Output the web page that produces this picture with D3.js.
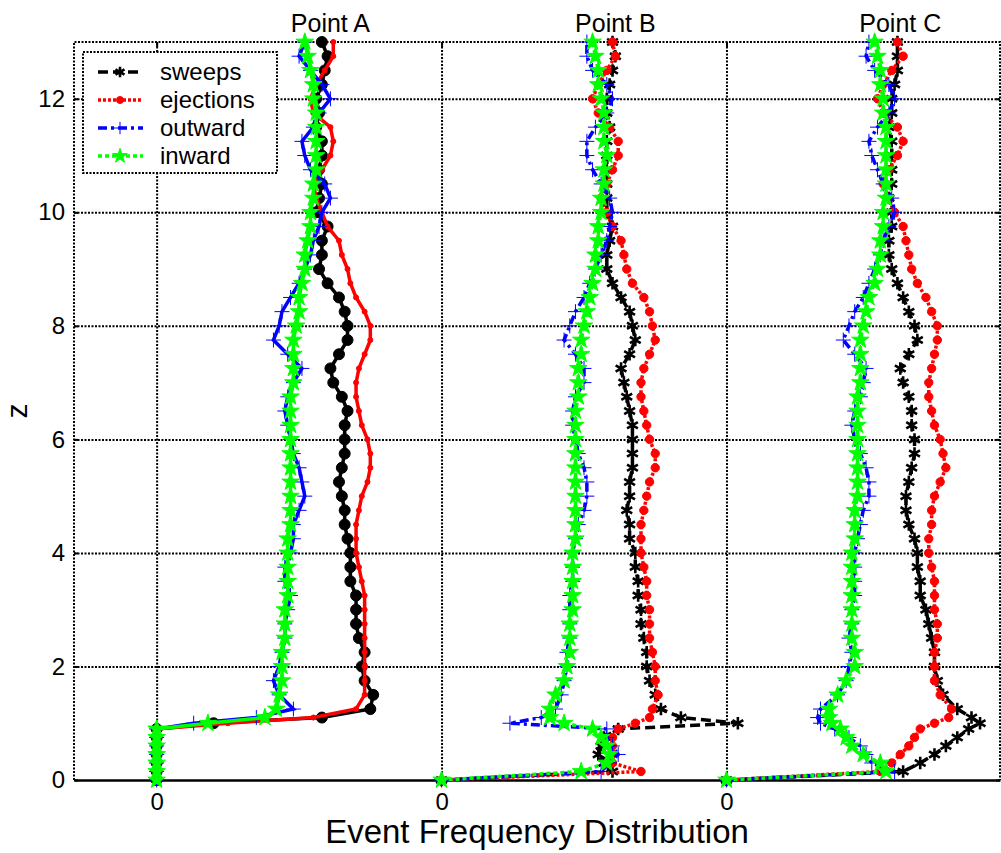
<!DOCTYPE html>
<html>
<head>
<meta charset="utf-8">
<script src="https://cdn.jsdelivr.net/npm/d3@7"></script>
<style>
  body { margin: 0; background: #fff; }
  text { font-family: "Liberation Sans", Arial, sans-serif; fill: #000; }
</style>
</head>
<body>
<script>
// z levels shared by every profile
var zLevels = [0, 0.15, 0.3, 0.45, 0.6, 0.75, 0.9, 1.0, 1.1,
  1.25, 1.5, 1.75, 2, 2.25, 2.5, 2.75, 3, 3.25, 3.5, 3.75, 4, 4.25, 4.5, 4.75, 5,
  5.25, 5.5, 5.75, 6, 6.25, 6.5, 6.75, 7, 7.25, 7.5, 7.75, 8, 8.25, 8.5, 8.75, 9,
  9.25, 9.5, 9.75, 10, 10.25, 10.5, 10.75, 11, 11.25, 11.5, 11.75, 12, 12.25, 12.5, 12.75, 13]

var panelNames = ['Point A', 'Point B', 'Point C']
var panelOffsets = [0, 100, 200]
var seriesNames = ['sweeps', 'ejections', 'outward', 'inward']
var yTicks = [0, 2, 4, 6, 8, 10, 12]

// Point A
var sweepsA = [0,0,0,0,0,0,0,20,58,
  75,76,73,72,73,71,70,70,70,68,68,68,67,66,66,65,64,65,66,66,66,67,65,62,61,64,67,67,66,64,60,57,58,58,60,56,57,58,57,58,58,56,57,56,58,59,60,58]
var ejectionsA = [0,0,0,0,0,0,0,25,55,
  70,73,73,73,73,73,73,73,73,72,71,70,70,70,71,72,74,75,75,74,72,71,70,70,71,73,75,75,73,70,68,67,65,64,60,58,56,55,58,61,62,61,55,54,56,59,62,62]
var outwardA = [0,0,0,0,0,0,0,13,35,
  48,43,41,43,44,45,45,46,47,45,45,47,48,48,50,52,51,50,48,47,46,45,46,48,51,46,41,43,44,47,50,52,54,55,57,58,61,59,54,52,51,55,57,61,58,54,50,52]
var inwardA = [0,0,0,0,0,0,0,18,38,
  42,43,44,44,44,45,45,45,46,46,46,46,46,47,47,47,47,47,47,47,47,47,47,48,48,48,48,49,50,50,51,52,52,53,54,54,55,55,56,56,56,56,56,55,55,54,53,52]

// Point B
var sweepsB = [0,60,57,55,56,57,62,104,84,
  77,75,73,72,72,71,70,70,69,69,68,68,66,66,65,66,66,67,67,67,67,66,65,64,63,66,68,67,66,63,60,58,58,59,60,58,58,58,58,58,58,59,58,58,59,60,61,60]
var ejectionsB = [0,70,60,60,60,60,62,68,73,
  74,76,75,75,74,73,73,73,72,72,71,70,70,70,71,72,73,75,75,73,72,71,70,70,71,73,75,74,73,71,67,65,64,63,60,58,56,58,60,62,62,59,55,53,55,58,61,60]
var outwardB = [0,56,59,62,60,58,58,24,35,
  40,42,43,44,44,45,45,45,45,46,46,46,47,48,50,51,51,50,48,47,46,46,47,50,50,47,43,45,47,50,52,54,56,58,59,60,59,56,53,51,51,54,58,60,58,53,51,51]
var inwardB = [0,49,58,59,58,56,53,43,38,
  38,40,43,44,45,45,45,46,46,46,46,46,47,47,47,47,47,47,47,47,47,47,48,48,48,49,49,50,51,52,53,54,54,55,55,56,56,57,57,58,57,57,57,56,55,55,54,53]

// Point C
var sweepsC = [0,62,68,73,77,81,85,89,86,
  81,76,74,73,73,72,71,70,68,68,67,67,66,64,63,63,64,65,66,66,65,65,64,62,61,64,67,66,64,62,60,58,57,57,58,58,57,58,58,58,58,57,58,58,59,60,60,60]
var ejectionsC = [0,54,58,61,64,66,68,73,78,
  79,75,73,73,73,74,74,73,73,73,72,71,71,72,72,73,75,77,76,75,73,72,71,71,72,73,74,74,72,70,67,65,64,63,62,59,57,55,57,60,62,60,55,53,55,58,62,60]
var outwardC = [0,59,51,49,47,43,38,33,32,
  33,39,42,43,44,43,44,44,45,45,45,45,46,47,48,50,50,49,47,45,44,45,47,48,49,45,41,43,45,48,50,52,54,55,57,59,58,55,53,51,50,53,57,59,57,52,49,50]
var inwardC = [0,56,54,48,44,42,40,37,36,
  36,39,42,45,45,44,44,44,44,44,44,44,45,45,45,46,46,46,46,46,46,46,46,47,47,47,47,48,49,50,52,53,54,54,55,55,56,56,56,56,56,56,55,55,54,54,53,52]

var panelData = [
  [sweepsA, ejectionsA, outwardA, inwardA],
  [sweepsB, ejectionsB, outwardB, inwardB],
  [sweepsC, ejectionsC, outwardC, inwardC]
]

var styles = {
  sweeps:    {color: '#000000', dash: '10,5',    sym: d3.symbolAsterisk, size: 110, stroke: true},
  ejections: {color: '#ff0000', dash: '3,2',     sym: d3.symbolCircle,   size: 55,  stroke: false},
  outward:   {color: '#0000ff', dash: '9,4,3,4', sym: d3.symbolPlus,     size: 75,  stroke: false},
  inward:    {color: '#00ff00', dash: '4,3',     sym: d3.symbolStar,     size: 95,  stroke: false}
}

var width = 1001, height = 853
var plotL = 74, plotR = 1000, plotT = 42, plotB = 780

var svg = d3.select('body').append('svg')
  .attr('width', width)
  .attr('height', height)

var x = d3.scaleLinear().domain([-29, 296]).range([plotL, plotR])
var y = d3.scaleLinear().domain([0, 13]).range([plotB, plotT])

// grid
svg.append('g')
   .attr('transform', 'translate(' + plotL + ',0)')
   .call(d3.axisLeft(y).tickValues(yTicks.slice(1)).tickSize(-(plotR - plotL)).tickFormat(''))
   .call(function(g){ g.select('.domain').remove() })
   .selectAll('line')
   .attr('stroke', '#000').attr('stroke-width', 2).attr('stroke-dasharray', '2,1.5')

svg.append('g')
   .attr('transform', 'translate(0,' + plotB + ')')
   .call(d3.axisBottom(x).tickValues(panelOffsets).tickSize(-(plotB - plotT)).tickFormat(''))
   .call(function(g){ g.select('.domain').remove() })
   .selectAll('line')
   .attr('stroke', '#000').attr('stroke-width', 2).attr('stroke-dasharray', '2,1.5')

// frame
svg.append('path')
   .attr('d', 'M' + plotL + ',' + plotB + 'V' + plotT + 'H' + plotR + 'V' + plotB)
   .attr('fill', 'none')
   .attr('stroke', '#000').attr('stroke-width', 2).attr('stroke-dasharray', '2,1.5')

// axes
var yAxis = svg.append('g')
   .attr('transform', 'translate(' + plotL + ',0)')
   .call(d3.axisLeft(y).tickValues(yTicks).tickSize(-4).tickPadding(9))
yAxis.select('.domain').remove()
yAxis.selectAll('text').attr('font-size', '24px').attr('fill', '#000')
yAxis.selectAll('line').attr('stroke-width', 2)

var yAxisR = svg.append('g')
   .attr('transform', 'translate(' + plotR + ',0)')
   .call(d3.axisRight(y).tickValues(yTicks).tickSize(-4).tickFormat(''))
yAxisR.select('.domain').remove()
yAxisR.selectAll('line').attr('stroke-width', 2)

var xAxisT = svg.append('g')
   .attr('transform', 'translate(0,' + plotT + ')')
   .call(d3.axisTop(x).tickValues(panelOffsets).tickSize(-5).tickFormat(''))
xAxisT.select('.domain').remove()
xAxisT.selectAll('line').attr('stroke-width', 2)

var xAxis = svg.append('g')
   .attr('transform', 'translate(0,' + plotB + ')')
   .call(d3.axisBottom(x).tickValues(panelOffsets).tickSize(0).tickPadding(13).tickFormat(function(){ return '0' }))
xAxis.select('.domain').attr('stroke', '#000').attr('stroke-width', 2.5)
xAxis.selectAll('text').attr('font-size', '24px').attr('fill', '#000')

// profiles
panelData.forEach(function(series, p){
  series.forEach(function(vals, s){
    var name = seriesNames[s]
    var st = styles[name]
    var pts = vals.map(function(v, i){ return {z: zLevels[i], v: v} })
    var line = d3.line()
      .x(function(d){ return x(panelOffsets[p] + d.v) })
      .y(function(d){ return y(d.z) })
    var g = svg.append('g').attr('class', 'profile ' + name)
    g.append('path')
     .datum(pts)
     .attr('d', line)
     .attr('fill', 'none')
     .attr('stroke', st.color)
     .attr('stroke-width', 3.5)
     .attr('stroke-dasharray', p === 0 ? null : st.dash)
    var sym = st.sym, size = st.size, stroke = st.stroke
    if (p === 0 && name === 'sweeps') { sym = d3.symbolCircle; size = 95; stroke = false }
    if (p === 0 && name === 'ejections') { size = 20 }
    g.selectAll('path.mk')
     .data(pts)
     .enter()
     .append('path')
     .attr('class', 'mk')
     .attr('transform', function(d){ return 'translate(' + x(panelOffsets[p] + d.v) + ',' + y(d.z) + ')' })
     .attr('d', d3.symbol().type(sym).size(size))
     .attr('fill', stroke ? 'none' : st.color)
     .attr('stroke', st.color)
     .attr('stroke-width', stroke ? 2.6 : 1)
  })
})

// titles
svg.selectAll('text.title')
   .data(panelNames)
   .enter()
   .append('text')
   .attr('class', 'title')
   .attr('x', function(d, i){ return x(panelOffsets[i] + 61) })
   .attr('y', 32)
   .attr('text-anchor', 'middle')
   .attr('font-size', '25px')
   .text(function(d){ return d })

svg.append('text')
   .attr('x', (plotL + plotR) / 2)
   .attr('y', 843)
   .attr('text-anchor', 'middle')
   .attr('font-size', '33px')
   .text('Event Frequency Distribution')

svg.append('text')
   .attr('transform', 'translate(27,' + y(6.5) + ') rotate(-90)')
   .attr('text-anchor', 'middle')
   .attr('font-size', '30px')
   .text('z')

// legend
var legend = svg.append('g')
legend.append('rect')
   .attr('x', 83).attr('y', 52).attr('width', 194).attr('height', 121)
   .attr('fill', '#fff')
   .attr('stroke', '#000').attr('stroke-width', 2).attr('stroke-dasharray', '2,1.5')

var rowY = [72, 100, 128, 156]
seriesNames.forEach(function(name, i){
  var st = styles[name]
  legend.append('line')
     .attr('x1', 98).attr('x2', 143).attr('y1', rowY[i]).attr('y2', rowY[i])
     .attr('stroke', st.color).attr('stroke-width', 3.5)
     .attr('stroke-dasharray', st.dash)
  legend.append('path')
     .attr('transform', 'translate(120,' + rowY[i] + ')')
     .attr('d', d3.symbol().type(st.sym).size(st.size * 0.7))
     .attr('fill', st.stroke ? 'none' : st.color)
     .attr('stroke', st.color)
     .attr('stroke-width', st.stroke ? 2.6 : 1)
  legend.append('text')
     .attr('x', 160).attr('y', rowY[i] + 8)
     .attr('font-size', '24px')
     .text(name)
})
</script>
</body>
</html>
